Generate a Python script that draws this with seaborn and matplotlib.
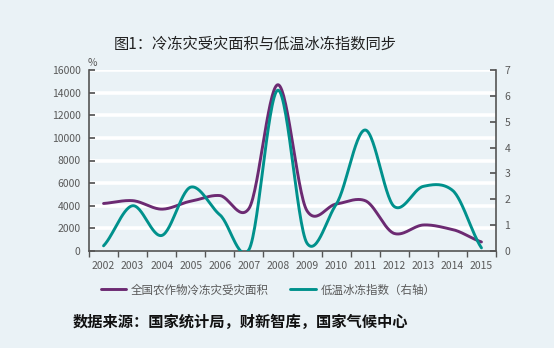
import numpy as np
import pandas as pd
import matplotlib
matplotlib.use("Agg")
import matplotlib.pyplot as plt
import seaborn as sns

years = ["2002", "2003", "2004", "2005", "2006", "2007", "2008", "2009",
         "2010", "2011", "2012", "2013", "2014", "2015"]
area = [4200, 4450, 3700, 4400, 4900, 3750, 14700, 3550,
        4150, 4450, 1550, 2300, 1900, 800]
index = [0.2, 1.75, 0.6, 2.47, 1.4, 0.05, 6.22, 0.3,
         1.8, 4.68, 1.72, 2.5, 2.35, 0.12]
left_ticks = [0, 2000, 4000, 6000, 8000, 10000, 12000, 14000, 16000]
right_ticks = [0, 1, 2, 3, 4, 5, 6, 7]

name_area = "全国农作物冷冻灾受灾面积"
name_index = "低温冰冻指数（右轴）"
title = "图1：冷冻灾受灾面积与低温冰冻指数同步"
source = "数据来源：国家统计局，财新智库，国家气候中心"

sns.set_theme(style="white")
plt.rcParams["font.family"] = ["Noto Sans CJK SC", "DejaVu Sans"]

BG = "#EAF2F6"
PURPLE = "#6C2A72"
TEAL = "#00918C"
GRAY = "#595959"


def smooth(y, n=30, s=0.75):
    """Cardinal-spline smoothing for display (Excel-like smoothed line)."""
    y = np.asarray(y, float)
    x = np.arange(len(y), dtype=float)
    P = np.concatenate([[y[0]], y, [y[-1]]])
    m = s * (P[2:] - P[:-2]) / 2.0
    m[0] = s * (y[1] - y[0])
    m[-1] = s * (y[-1] - y[-2])
    xs, ys = [], []
    t = np.linspace(0, 1, n, endpoint=False)
    h00 = 2 * t ** 3 - 3 * t ** 2 + 1
    h10 = t ** 3 - 2 * t ** 2 + t
    h01 = -2 * t ** 3 + 3 * t ** 2
    h11 = t ** 3 - t ** 2
    for i in range(len(y) - 1):
        v = h00 * y[i] + h10 * m[i] + h01 * y[i + 1] + h11 * m[i + 1]
        xs.append(x[i] + t)
        ys.append(v)
    xs.append([x[-1]])
    ys.append([y[-1]])
    return np.concatenate(xs), np.concatenate(ys)


fig = plt.figure(figsize=(5.54, 3.48), dpi=100, facecolor=BG)
ax = fig.add_axes([89 / 554, 1 - 251 / 348, (496 - 89) / 554, (251 - 70) / 348])
ax.set_facecolor(BG)
ax2 = ax.twinx()

xa, ya = smooth(area)
xb, yb = smooth(index)
sns.lineplot(x=xa, y=ya, ax=ax, color=PURPLE, lw=2.1, sort=False, label=name_area, legend=False)
sns.lineplot(x=xb, y=yb, ax=ax2, color=TEAL, lw=2.1, sort=False, label=name_index, legend=False)

ax.set_xlim(-0.5, len(years) - 0.5)
ax.set_ylim(0, 16000)
ax2.set_ylim(0, 7)
ax.set_yticks(left_ticks)
ax.set_yticklabels([str(v) for v in left_ticks])
ax2.set_yticks(right_ticks)
ax2.set_yticklabels([str(v) for v in right_ticks])
ax.set_xticks(range(len(years)))
ax.set_xticklabels(years)
ax.set_xticks(np.arange(-0.5, len(years), 1), minor=True)

for v in left_ticks[1:]:
    ax.axhline(v, color="white", lw=2.6, zorder=0)

for a in (ax, ax2):
    for s in a.spines.values():
        s.set_visible(False)
ax.spines["left"].set_visible(True)
ax.spines["bottom"].set_visible(True)
ax2.spines["right"].set_visible(True)
for s in (ax.spines["left"], ax.spines["bottom"], ax2.spines["right"]):
    s.set_color("#555555")
    s.set_linewidth(1.2)

ax.tick_params(axis="y", which="major", direction="in", length=4, color="#555555",
               labelsize=7.5, labelcolor=GRAY, pad=6, left=True)
ax2.tick_params(axis="y", which="major", direction="in", length=4, color="#555555",
                labelsize=7.5, labelcolor=GRAY, pad=6, right=True)
ax.tick_params(axis="x", which="major", length=0, labelsize=7.5, labelcolor=GRAY, pad=7)
ax.tick_params(axis="x", which="minor", direction="out", length=4, color="#555555", bottom=True)
ax.grid(False)
ax2.grid(False)
ax.set_xlabel("")
ax.set_ylabel("")
ax2.set_ylabel("")

fig.text(92 / 554, 1 - 63 / 348, "%", fontsize=7.5, color=GRAY, ha="center", va="center")
fig.text(255 / 554, 1 - 44 / 348, title, fontsize=11, color="#222222",
         ha="center", va="center", fontweight="medium")
fig.text(73 / 554, 1 - 322 / 348, source, fontsize=11, color="#111111",
         ha="left", va="center", fontweight="semibold")

h1, l1 = ax.get_legend_handles_labels()
h2, l2 = ax2.get_legend_handles_labels()
fig.legend(h1 + h2, l1 + l2, loc="center", bbox_to_anchor=(268 / 554, 1 - 290 / 348),
           ncol=2, frameon=False, fontsize=8.3, labelcolor=GRAY, handlelength=2.2,
           columnspacing=1.9, handletextpad=0.4)

fig.savefig("out.png", dpi=100, facecolor=BG)
